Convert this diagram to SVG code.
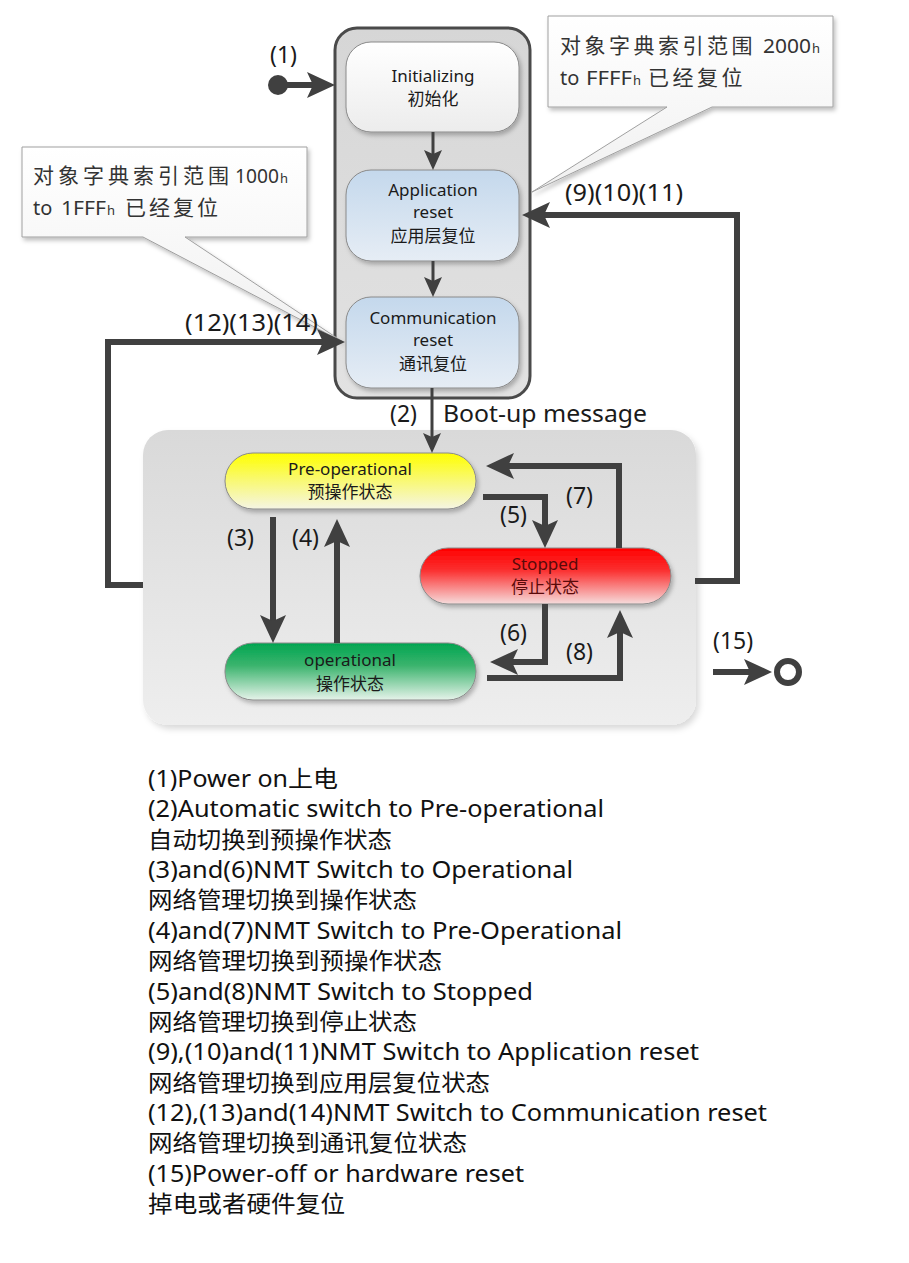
<svg xmlns="http://www.w3.org/2000/svg" width="909" height="1263" viewBox="0 0 909 1263">
<style>
text{font-family:"Noto Sans","Noto Sans CJK SC","Liberation Sans",sans-serif;}
.nl{font-size:17px;fill:#1a1a1a;text-anchor:middle;}
.nlr{font-size:17px;fill:#5a0a0a;text-anchor:middle;}
.cl{font-size:23px;fill:#1a1a1a;}
.lg{font-size:23px;fill:#111;}
.co{font-size:21px;fill:#333;}
.con{font-size:20px;fill:#333;}
.sub{font-size:13px;fill:#333;}
.thick{fill:none;stroke:#404040;stroke-width:6;stroke-linejoin:miter;marker-end:url(#ah);}
.thin{fill:none;stroke:#404040;stroke-width:3;marker-end:url(#ahs);}
.state{stroke:#8a8a8a;stroke-width:1;filter:url(#sh);}
</style>
<defs>
<filter id="sh" x="-10%" y="-10%" width="130%" height="140%"><feDropShadow dx="2" dy="3" stdDeviation="2" flood-color="#000" flood-opacity="0.25"/></filter>
<filter id="shl" x="-10%" y="-10%" width="130%" height="130%"><feDropShadow dx="3" dy="4" stdDeviation="3" flood-color="#000" flood-opacity="0.15"/></filter>
<linearGradient id="gInit" x1="0" y1="0" x2="0" y2="1"><stop offset="0" stop-color="#ffffff"/><stop offset="1" stop-color="#ececec"/></linearGradient>
<linearGradient id="gBlue" x1="0" y1="0" x2="0" y2="1"><stop offset="0" stop-color="#c4d8ec"/><stop offset="1" stop-color="#e6edf5"/></linearGradient>
<linearGradient id="gYel" x1="0" y1="0" x2="0" y2="1"><stop offset="0" stop-color="#ffff00"/><stop offset="0.45" stop-color="#f9f96a"/><stop offset="1" stop-color="#f5f5e4"/></linearGradient>
<linearGradient id="gRed" x1="0" y1="0" x2="0" y2="1"><stop offset="0" stop-color="#ff0000"/><stop offset="0.4" stop-color="#fb3030"/><stop offset="1" stop-color="#f6dcdc"/></linearGradient>
<linearGradient id="gGrn" x1="0" y1="0" x2="0" y2="1"><stop offset="0" stop-color="#00a550"/><stop offset="0.4" stop-color="#3cb46e"/><stop offset="1" stop-color="#e6f3ea"/></linearGradient>
<linearGradient id="gOuter" x1="0" y1="0" x2="0" y2="1"><stop offset="0" stop-color="#d6d6d6"/><stop offset="1" stop-color="#e2e2e2"/></linearGradient>
<linearGradient id="gBot" x1="0" y1="0" x2="0" y2="1"><stop offset="0" stop-color="#d9d9d9"/><stop offset="1" stop-color="#eeeeee"/></linearGradient>
<linearGradient id="gCall" x1="0" y1="0" x2="0" y2="1"><stop offset="0" stop-color="#ffffff"/><stop offset="1" stop-color="#f0f0f0"/></linearGradient>
<marker id="ah" markerUnits="userSpaceOnUse" viewBox="0 0 28 28" markerWidth="28" markerHeight="28" refX="6" refY="14" orient="auto"><path d="M0,1 L28,14 L0,27 L6,14 Z" fill="#404040"/></marker>
<marker id="ahs" markerUnits="userSpaceOnUse" viewBox="0 0 20 18" markerWidth="20" markerHeight="18" refX="4" refY="9" orient="auto"><path d="M0,0 L20,9 L0,18 L4,9 Z" fill="#404040"/></marker>
</defs>
<rect width="909" height="1263" fill="#ffffff"/>

<g id="reset-container">
<rect x="335" y="28" width="195" height="370" rx="22" fill="url(#gOuter)" stroke="#4a4a4a" stroke-width="3"/>
</g>
<g id="operating-container">
<rect x="143" y="430" width="553" height="295" rx="25" fill="url(#gBot)" filter="url(#shl)"/>
</g>

<g id="callout-left">
<path d="M22,147 H307 V237 H185 L343,342 L143,237 H22 Z" fill="url(#gCall)" stroke="#a0a0a0" stroke-width="1" filter="url(#sh)"/>
<text class="co" x="33" y="183" letter-spacing="4">对象字典索引范围</text>
<text class="con" x="235" y="183" textLength="44" lengthAdjust="spacingAndGlyphs">1000</text><text class="sub" x="280" y="183">h</text>
<text class="con" x="33" y="215">to</text>
<text class="con" x="61" y="215" textLength="45" lengthAdjust="spacingAndGlyphs">1FFF</text><text class="sub" x="107" y="215">h</text>
<text class="co" x="125" y="215" letter-spacing="3">已经复位</text>
</g>
<g id="callout-right">
<path d="M548,16 H833 V107 H712 L532,192 L667,107 H548 Z" fill="url(#gCall)" stroke="#a0a0a0" stroke-width="1" filter="url(#sh)"/>
<text class="co" x="560" y="53" letter-spacing="3.5">对象字典索引范围</text>
<text class="con" x="763" y="53" textLength="48" lengthAdjust="spacingAndGlyphs">2000</text><text class="sub" x="812" y="53">h</text>
<text class="con" x="560" y="85">to</text>
<text class="con" x="586" y="85" textLength="46" lengthAdjust="spacingAndGlyphs">FFFF</text><text class="sub" x="633" y="85">h</text>
<text class="co" x="648" y="85" letter-spacing="3.5">已经复位</text>
</g>

<g id="initializing">
<rect class="state" x="346" y="42" width="173" height="90" rx="25" fill="url(#gInit)"/>
<text class="nl" x="433" y="82">Initializing</text>
<text class="nl" x="433" y="105">初始化</text>
</g>
<g id="application-reset">
<rect class="state" x="346" y="170" width="173" height="91" rx="25" fill="url(#gBlue)"/>
<text class="nl" x="433" y="196">Application</text>
<text class="nl" x="433" y="218">reset</text>
<text class="nl" x="433" y="242">应用层复位</text>
</g>
<g id="communication-reset">
<rect class="state" x="346" y="297" width="173" height="91" rx="25" fill="url(#gBlue)"/>
<text class="nl" x="433" y="324">Communication</text>
<text class="nl" x="433" y="346">reset</text>
<text class="nl" x="433" y="370">通讯复位</text>
</g>
<g id="pre-operational">
<rect class="state" x="225" y="453" width="251" height="56" rx="28" fill="url(#gYel)"/>
<text class="nl" x="350" y="475">Pre-operational</text>
<text class="nl" x="350" y="498">预操作状态</text>
</g>
<g id="stopped">
<rect class="state" x="420" y="548" width="251" height="56" rx="28" fill="url(#gRed)"/>
<text class="nlr" x="545" y="570">Stopped</text>
<text class="nlr" x="545" y="593">停止状态</text>
</g>
<g id="operational">
<rect class="state" x="225" y="643" width="251" height="57" rx="28" fill="url(#gGrn)"/>
<text class="nl" x="350" y="666">operational</text>
<text class="nl" x="350" y="690">操作状态</text>
</g>

<g id="connectors">
<circle cx="278" cy="85" r="10" fill="#404040"/>
<path class="thick" d="M278,85 H313"/>
<path class="thin" d="M433,132 V154"/>
<path class="thin" d="M433,261 V281"/>
<path class="thin" d="M432,388 V437"/>
<path class="thick" d="M273,517 V621"/>
<path class="thick" d="M337,643 V541"/>
<path class="thick" d="M483,497 H545 V526"/>
<path class="thick" d="M619,548 V466 H508"/>
<path class="thick" d="M545,604 V662 H512"/>
<path class="thick" d="M487,678 H620 V632"/>
<path class="thick" d="M143,585 H108 V342 H323"/>
<path class="thick" d="M695,581 H737 V215 H544"/>
<path class="thick" d="M713,672 H750"/>
<circle cx="788" cy="672" r="11" fill="#ffffff" stroke="#404040" stroke-width="6"/>
<text class="cl" x="270" y="63">(1)</text>
<text class="cl" x="565" y="201" textLength="118" lengthAdjust="spacingAndGlyphs">(9)(10)(11)</text>
<text class="cl" x="185" y="331" textLength="133" lengthAdjust="spacingAndGlyphs">(12)(13)(14)</text>
<text class="cl" x="390" y="422">(2)</text>
<text class="cl" x="443" y="422" textLength="204" lengthAdjust="spacingAndGlyphs">Boot-up message</text>
<text class="cl" x="227" y="546">(3)</text>
<text class="cl" x="292" y="546">(4)</text>
<text class="cl" x="500" y="523">(5)</text>
<text class="cl" x="566" y="504">(7)</text>
<text class="cl" x="500" y="641">(6)</text>
<text class="cl" x="566" y="660">(8)</text>
<text class="cl" x="713" y="649">(15)</text>
</g>

<g id="legend">
<text class="lg" x="148" y="787" textLength="190" lengthAdjust="spacingAndGlyphs">(1)Power on上电</text>
<text class="lg" x="148" y="817" textLength="456" lengthAdjust="spacingAndGlyphs">(2)Automatic switch to Pre-operational</text>
<text class="lg" x="148" y="848" textLength="244" lengthAdjust="spacingAndGlyphs">自动切换到预操作状态</text>
<text class="lg" x="148" y="878" textLength="425" lengthAdjust="spacingAndGlyphs">(3)and(6)NMT Switch to Operational</text>
<text class="lg" x="148" y="908" textLength="269" lengthAdjust="spacingAndGlyphs">网络管理切换到操作状态</text>
<text class="lg" x="148" y="939" textLength="474" lengthAdjust="spacingAndGlyphs">(4)and(7)NMT Switch to Pre-Operational</text>
<text class="lg" x="148" y="969" textLength="294" lengthAdjust="spacingAndGlyphs">网络管理切换到预操作状态</text>
<text class="lg" x="148" y="1000" textLength="385" lengthAdjust="spacingAndGlyphs">(5)and(8)NMT Switch to Stopped</text>
<text class="lg" x="148" y="1030" textLength="269" lengthAdjust="spacingAndGlyphs">网络管理切换到停止状态</text>
<text class="lg" x="148" y="1060" textLength="551" lengthAdjust="spacingAndGlyphs">(9),(10)and(11)NMT Switch to Application reset</text>
<text class="lg" x="148" y="1091" textLength="342" lengthAdjust="spacingAndGlyphs">网络管理切换到应用层复位状态</text>
<text class="lg" x="148" y="1121" textLength="619" lengthAdjust="spacingAndGlyphs">(12),(13)and(14)NMT Switch to Communication reset</text>
<text class="lg" x="148" y="1151" textLength="319" lengthAdjust="spacingAndGlyphs">网络管理切换到通讯复位状态</text>
<text class="lg" x="148" y="1182" textLength="376" lengthAdjust="spacingAndGlyphs">(15)Power-off or hardware reset</text>
<text class="lg" x="148" y="1212" textLength="197" lengthAdjust="spacingAndGlyphs">掉电或者硬件复位</text>
</g>
</svg>
